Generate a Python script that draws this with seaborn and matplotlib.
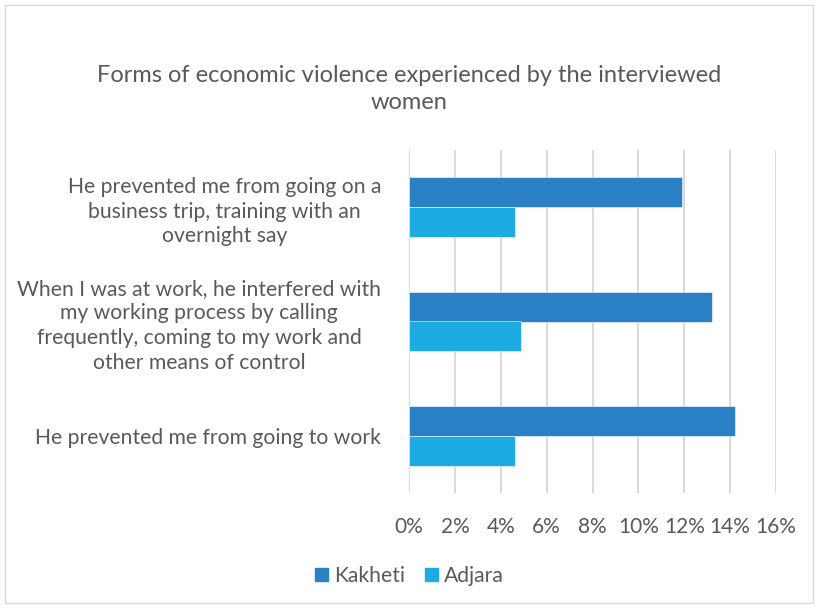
import matplotlib
matplotlib.use("Agg")
import matplotlib.pyplot as plt
import matplotlib.patches as mpatches
import seaborn as sns
import pandas as pd

categories = [
    "He prevented me from going on a\nbusiness trip, training with an\novernight say",
    "When I was at work, he interfered with\nmy working process by calling\nfrequently, coming to my work and\nother means of control",
    "He prevented me from going to work",
]
kakheti = [11.9, 13.2, 14.2]
adjara = [4.6, 4.9, 4.6]
series = ["Kakheti", "Adjara"]
tick_values = [0, 2, 4, 6, 8, 10, 12, 14, 16]
tick_labels = [f"{v}%" for v in tick_values]

df = pd.DataFrame({
    "category": categories * 2,
    "value": kakheti + adjara,
    "region": [series[0]] * 3 + [series[1]] * 3,
})

sns.set_theme(style="white")
plt.rcParams["font.family"] = ["Lato", "DejaVu Sans"]
text_color = "#595959"
colors = ["#2980c5", "#1cace3"]

fig = plt.figure(figsize=(8.19, 6.08), dpi=100)
ax = fig.add_axes([409 / 819, 1 - 493 / 608, (776 - 409) / 819, (493 - 150) / 608])

sns.barplot(
    data=df, y="category", x="value", hue="region", orient="h",
    palette=colors, width=0.52, order=categories,
    hue_order=series, ax=ax, legend=False, saturation=1,
    edgecolor="white", linewidth=0.4,
)

ax.set_xlim(0, 16)
ax.set_ylim(2.5, -0.5)
ax.set_xticks(tick_values)
ax.set_xticklabels(tick_labels, fontsize=15, color=text_color)
ax.tick_params(axis="x", length=0, pad=17)
ax.tick_params(axis="y", length=0, pad=20)
for lbl in ax.get_yticklabels():
    lbl.set_fontsize(15.2)
    lbl.set_color(text_color)
    lbl.set_multialignment("center")
    lbl.set_linespacing(1.3)
ax.set_xlabel("")
ax.set_ylabel("")
ax.grid(axis="x", color="#d9d9d9", linewidth=1.4)
ax.set_axisbelow(True)
for s in ax.spines.values():
    s.set_visible(False)

fig.text(0.5, 1 - 89 / 608, "Forms of economic violence experienced by the interviewed\nwomen",
         ha="center", va="center", fontsize=17, color=text_color, linespacing=1.35)

handles = [mpatches.Patch(color=c, label=s) for c, s in zip(colors, series)]
fig.legend(handles=handles, loc="center", bbox_to_anchor=(0.5, 1 - 576 / 608), ncol=2,
           frameon=False, fontsize=15.2, labelcolor=text_color, handlelength=0.62,
           handleheight=0.62, handletextpad=0.3, columnspacing=0.9)

fig.add_artist(mpatches.Rectangle((5 / 819, 5 / 608), 808 / 819, 598 / 608,
                                  transform=fig.transFigure, fill=False,
                                  edgecolor="#d9d9d9", linewidth=1.0))

fig.savefig("out.png", dpi=100)
